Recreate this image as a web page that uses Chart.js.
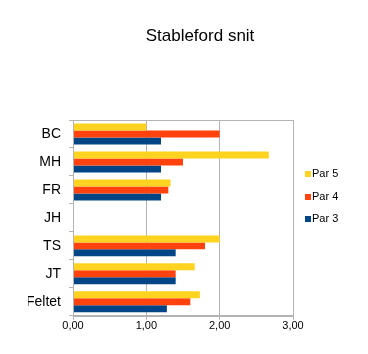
<!DOCTYPE html>
<html>
<head>
<meta charset="utf-8">
<script src="https://cdn.jsdelivr.net/npm/chart.js@4/dist/chart.umd.min.js"></script>
<style>
  html, body { margin: 0; padding: 0; background: #fff; }
  #wrap { width: 368px; height: 354px; }
</style>
</head>
<body>
<div id="wrap"><canvas id="myChart" width="368" height="354"></canvas></div>
<script>
// players and the average stableford points per par type
const players = ['BC', 'MH', 'FR', 'JH', 'TS', 'JT', 'Feltet'];
const par5 = [1.00, 2.67, 1.33, null, 2.00, 1.66, 1.73];
const par4 = [2.00, 1.50, 1.30, null, 1.80, 1.40, 1.60];
const par3 = [1.20, 1.20, 1.20, null, 1.40, 1.40, 1.28];
const xTicks = [0, 1, 2, 3];

const chartTitle = 'Stableford snit';
const seriesNames = ['Par 5', 'Par 4', 'Par 3'];
const seriesColors = ['#ffd320', '#ff420e', '#004586'];
const gridColor = '#b3b3b3';
const fontFamily = '"Liberation Sans", Arial, sans-serif';

// ----------------------------------------------------------------

// border round the plot area (top and right side)
const plotBorder = {
  id: 'plotBorder',
  afterDatasetsDraw(chart) {
    const a = chart.chartArea;
    const ctx = chart.ctx;
    ctx.save();
    ctx.strokeStyle = gridColor;
    ctx.lineWidth = 1;
    ctx.strokeRect(Math.round(a.left) + 0.5, Math.round(a.top) + 0.5,
      Math.round(a.right - a.left), Math.round(a.bottom - a.top));
    ctx.restore();
  }
};

// title sits centred over the plot + legend block, not the canvas
const offsetTitle = {
  id: 'offsetTitle',
  afterDraw(chart) {
    const ctx = chart.ctx;
    ctx.save();
    ctx.font = '17px ' + fontFamily;
    ctx.fillStyle = '#000';
    ctx.textAlign = 'center';
    ctx.textBaseline = 'middle';
    ctx.fillText(chartTitle, 200, 36);
    ctx.restore();
  }
};

// small legend on the right, like the office chart
const sideLegend = {
  id: 'sideLegend',
  afterDraw(chart) {
    const a = chart.chartArea;
    const ctx = chart.ctx;
    ctx.save();
    ctx.font = '11px ' + fontFamily;
    ctx.textBaseline = 'middle';
    ctx.textAlign = 'left';
    chart.data.datasets.forEach(function (ds, i) {
      const y = 174 + i * 22.5;
      const x = a.right + 12;
      ctx.fillStyle = ds.backgroundColor;
      ctx.fillRect(x, Math.round(y - 3), 6, 6);
      ctx.fillStyle = '#000';
      ctx.fillText(ds.label, x + 7, y);
    });
    ctx.restore();
  }
};

const data = {
  labels: players,
  datasets: [
    { label: seriesNames[0], data: par5, backgroundColor: seriesColors[0] },
    { label: seriesNames[1], data: par4, backgroundColor: seriesColors[1] },
    { label: seriesNames[2], data: par3, backgroundColor: seriesColors[2] }
  ]
};

const config = {
  type: 'bar',
  data: data,
  plugins: [plotBorder, offsetTitle, sideLegend],
  options: {
    indexAxis: 'y',
    responsive: false,
    animation: false,
    devicePixelRatio: 1,
    layout: {
      padding: { left: 28, right: 75, top: 120, bottom: 21 }
    },
    datasets: {
      bar: {
        categoryPercentage: 0.75,
        barPercentage: 1,
        borderWidth: 0
      }
    },
    plugins: {
      tooltip: { enabled: false },
      legend: { display: false },
      title: { display: false }
    },
    scales: {
      x: {
        min: 0,
        max: 3,
        afterBuildTicks: function (scale) {
          scale.ticks = xTicks.map(function (v) { return { value: v }; });
        },
        ticks: {
          color: '#000',
          padding: 0,
          font: { family: fontFamily, size: 11 },
          callback: function (value) {
            return Number(value).toFixed(2).replace('.', ',');
          }
        },
        grid: {
          color: gridColor,
          drawOnChartArea: true,
          drawTicks: true,
          tickLength: 4
        },
        border: { color: gridColor }
      },
      y: {
        afterFit: function (scale) {
          scale.width = 45;
        },
        ticks: {
          color: '#000',
          padding: 8,
          font: { family: fontFamily, size: 14 }
        },
        grid: {
          color: gridColor,
          offset: true,
          drawOnChartArea: false,
          drawTicks: true,
          tickLength: 4
        },
        border: { color: gridColor }
      }
    }
  }
};

var canvas = document.getElementById('myChart').getContext('2d');
var myChart = new Chart(canvas, config);
</script>
</body>
</html>
